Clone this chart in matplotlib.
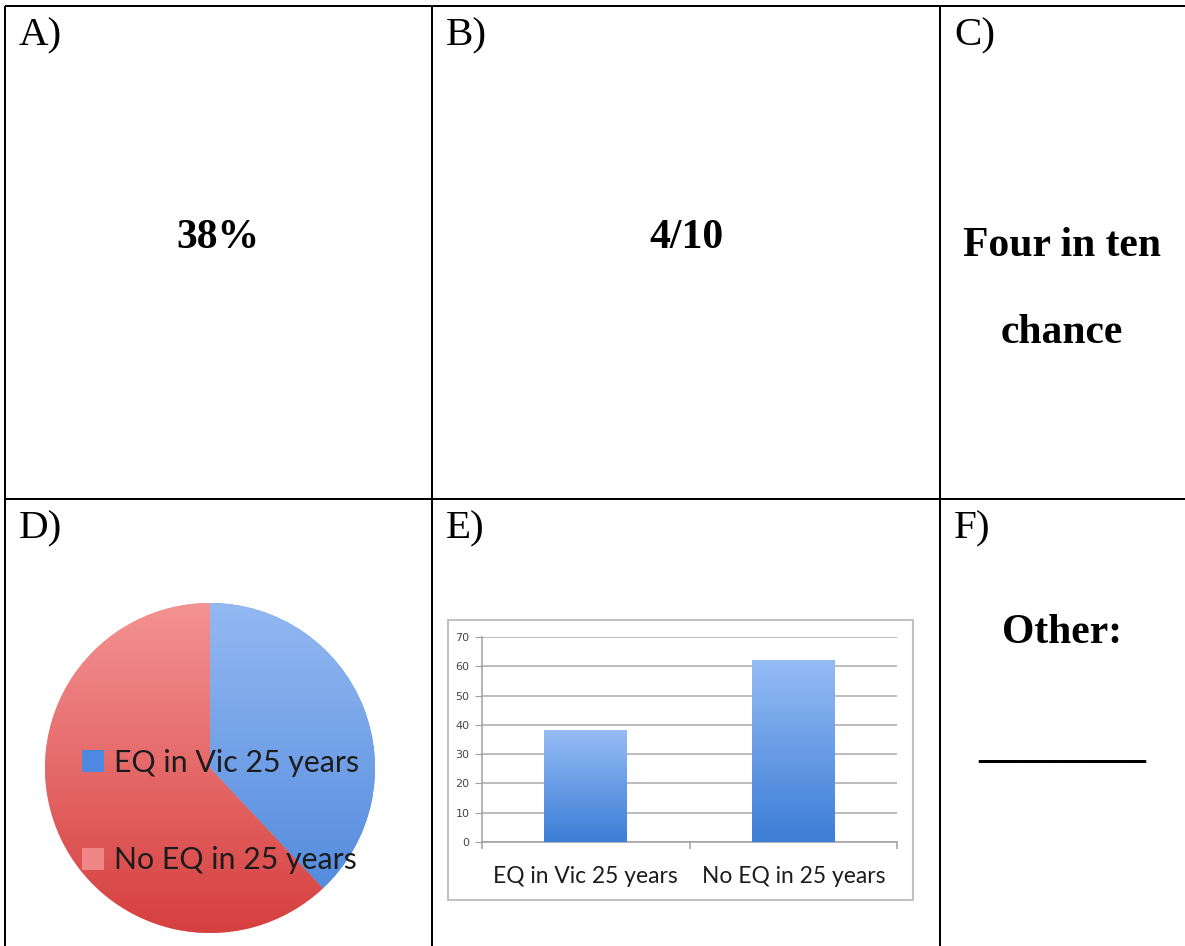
import numpy as np
import matplotlib
matplotlib.use("Agg")
import matplotlib.pyplot as plt
from matplotlib.colors import LinearSegmentedColormap
from matplotlib.patches import Rectangle

# ---- data ----
panel_letters = ["A)", "B)", "C)", "D)", "E)", "F)"]
text_answers = ["38%", "4/10", "Four in ten\n\nchance"]
other_label = "Other:"
categories = ["EQ in Vic 25 years", "No EQ in 25 years"]
percent_values = [38, 62]
bar_yticks = [0, 10, 20, 30, 40, 50, 60, 70]

W, H = 1185, 946
fig = plt.figure(figsize=(W / 100, H / 100), dpi=100)
fig.patch.set_facecolor("white")

# page-level axes in pixel coordinates (y downwards)
page = fig.add_axes([0, 0, 1, 1])
page.set_xlim(0, W)
page.set_ylim(H, 0)
page.axis("off")

serif = "Liberation Serif"
lw_table = 2.0 * 72 / 100

# table grid
col_x = [5, 432, 940]
row_y = [6, 499]
for y in row_y:
    page.plot([col_x[0], W], [y, y], color="black", lw=lw_table, solid_capstyle="butt")
for x in col_x:
    page.plot([x, x], [row_y[0], H], color="black", lw=lw_table, solid_capstyle="butt")

# panel letters
for i, lab in enumerate(panel_letters):
    cx = col_x[i % 3] + 14
    by = row_y[i // 3] + 39
    page.text(cx, by, lab, fontsize=29.5, family=serif, va="baseline", ha="left")

# bold answers in the top row
col_centers = [218, 686, 1062]
page.text(col_centers[0], 248, text_answers[0], fontsize=30, family=serif,
          weight="bold", ha="center", va="baseline")
page.text(col_centers[1], 248, text_answers[1], fontsize=30, family=serif,
          weight="bold", ha="center", va="baseline")
for line, by in zip(text_answers[2].split("\n\n"), [256, 343]):
    page.text(col_centers[2], by, line, fontsize=30, family=serif,
              weight="bold", ha="center", va="baseline")

# "Other:" cell
page.text(1062, 643, other_label, fontsize=30, family=serif, weight="bold",
          ha="center", va="baseline")
page.text(1062, 757, "_" * 8, fontsize=30, family=serif, weight="bold",
          ha="center", va="baseline")

sans = "Lato"

# ---- pie chart ----
def fax(x0, y0, x1, y1):
    return fig.add_axes([x0 / W, (H - y1) / H, (x1 - x0) / W, (y1 - y0) / H])

pie_ax = fax(45, 603, 375, 933)
pie_ax.set_aspect("equal")
pie_ax.axis("off")

blue_mid, red_mid = "#4f88df", "#f08787"
wedges, _ = pie_ax.pie(percent_values, colors=[blue_mid, red_mid], startangle=90,
                       counterclock=False, radius=1.0)
pie_ax.set_xlim(-1, 1)
pie_ax.set_ylim(-1, 1)

grad = np.linspace(0, 1, 256).reshape(-1, 1)
cmaps = [LinearSegmentedColormap.from_list("b", ["#94b9f2", "#4a85db"]),
         LinearSegmentedColormap.from_list("r", ["#f49393", "#d63f3f"])]
for w, cm in zip(wedges, cmaps):
    im = pie_ax.imshow(grad, cmap=cm, extent=(-1, 1, -1, 1), origin="upper",
                       aspect="auto", zorder=2)
    im.set_clip_path(w)

pie_leg = pie_ax.legend(wedges, categories, loc="center left",
                        bbox_to_anchor=(82 / W, 1 - 811.5 / H),
                        bbox_transform=fig.transFigure, frameon=False,
                        prop={"family": sans, "size": 21.8},
                        handlelength=0.73, handleheight=0.73, handletextpad=0.33,
                        labelspacing=2.3, borderpad=0, borderaxespad=0)
for t in pie_leg.get_texts():
    t.set_color("#1c1c1c")

# ---- bar chart ----
page.add_patch(Rectangle((448, 620), 913 - 448, 900 - 620, facecolor="white",
                         edgecolor="#c2c2c2", lw=1.5))

bar_ax = fax(482, 637, 897, 842)
xpos = np.arange(len(categories))
bars = bar_ax.bar(xpos, percent_values, width=0.4, color="#6a9be4", zorder=3)
bar_cm = LinearSegmentedColormap.from_list("bar", ["#95bcf5", "#3c7dd6"])
for b in bars:
    x0, y0 = b.get_x(), b.get_y()
    im = bar_ax.imshow(grad, cmap=bar_cm, origin="upper", aspect="auto",
                       extent=(x0, x0 + b.get_width(), y0, y0 + b.get_height()),
                       zorder=4)
bar_ax.set_xlim(-0.5, 1.5)
bar_ax.set_ylim(0, 70)
bar_ax.set_yticks(bar_yticks)
bar_ax.yaxis.grid(True, color="#a9a9a9", lw=1.1, zorder=1)
bar_ax.set_axisbelow(True)
for s in ["top", "right"]:
    bar_ax.spines[s].set_visible(False)
for s in ["left", "bottom"]:
    bar_ax.spines[s].set_color("#a0a0a0")
    bar_ax.spines[s].set_linewidth(1.1)
bar_ax.tick_params(axis="y", direction="out", length=5, color="#a0a0a0",
                   labelsize=8, labelcolor="#454545", pad=4)
bar_ax.set_xticks(xpos)
bar_ax.set_xticklabels(categories, family=sans, fontsize=16.4, color="#1c1c1c")
bar_ax.set_xticks([-0.5, 0.5, 1.5], minor=True)
bar_ax.tick_params(axis="x", which="major", length=0, pad=17)
bar_ax.tick_params(axis="x", which="minor", direction="out", length=5,
                   color="#a0a0a0", width=1.1)

fig.savefig("out.png", dpi=100, facecolor="white")
